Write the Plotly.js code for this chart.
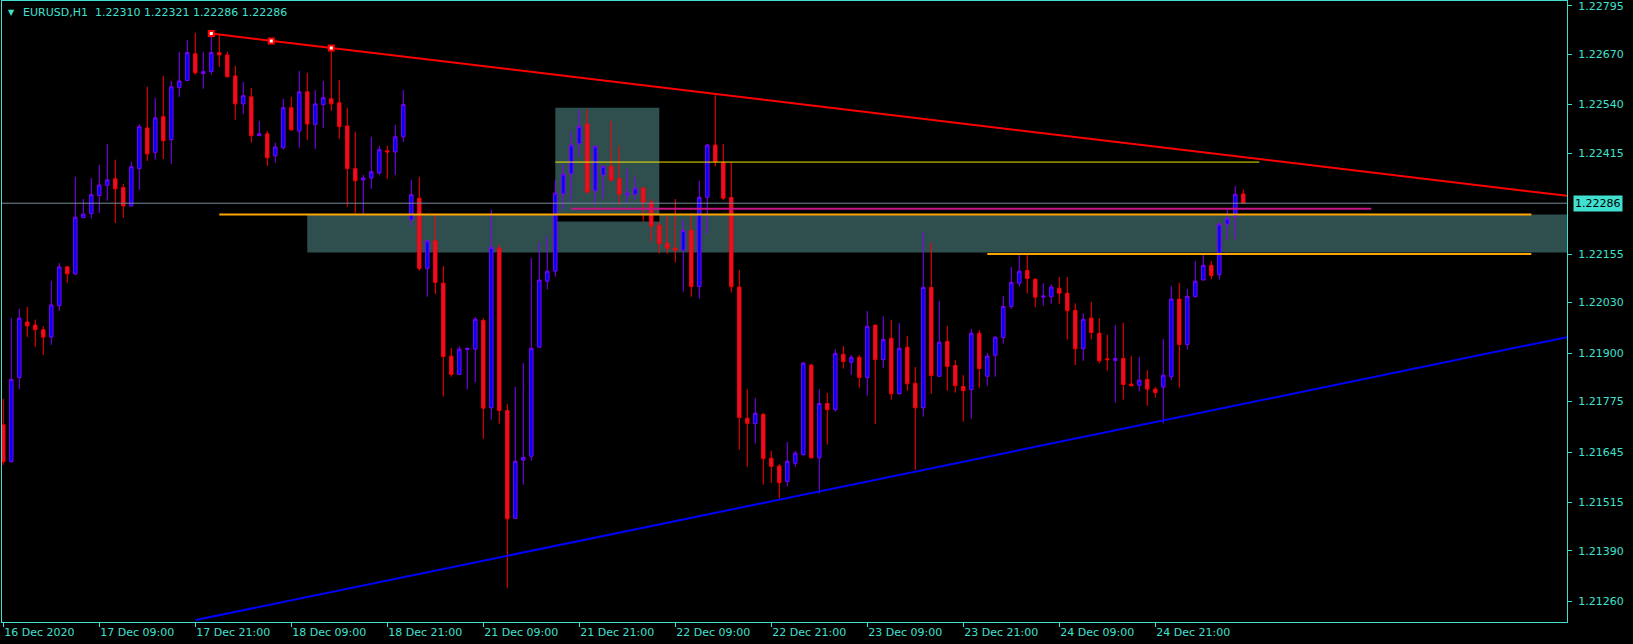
<!DOCTYPE html>
<html>
<head>
<meta charset="utf-8">
<script src="https://cdn.plot.ly/plotly-3.0.1.min.js"></script>
<style>
html,body{margin:0;padding:0;background:#000;}
#chart{width:1633px;height:644px;}
</style>
</head>
<body>
<div id="chart"></div>
<script>
// ---- Data (EURUSD H1) ----
const symbolTitle = "EURUSD,H1";
const lastQuote = ["1.22310", "1.22321", "1.22286", "1.22286"];
const currentPrice = 1.22286;

const opens = [
1.21715,1.21620,1.21837,1.21980,1.21972,1.21960,1.21941,1.22022,1.22122,1.22104,
1.22249,1.22259,1.22306,1.22332,1.22349,1.22326,1.22279,1.22375,1.22480,1.22417,
1.22509,1.22450,1.22584,1.22602,1.22671,1.22620,1.22625,1.22674,1.22668,1.22614,
1.22542,1.22560,1.22460,1.22465,1.22408,1.22429,1.22532,1.22472,1.22573,1.22489,
1.22540,1.22555,1.22545,1.22485,1.22375,1.22346,1.22351,1.22364,1.22421,1.22418,
1.22457,1.22243,1.22299,1.22118,1.22189,1.22080,1.21892,1.21845,1.21909,1.21910,
1.21984,1.21759,1.22170,1.21752,1.21474,1.21624,1.21634,1.21915,1.22085,1.22111,
1.22310,1.22362,1.22439,1.22490,1.22318,1.22359,1.22381,1.22349,1.22307,1.22309,
1.22325,1.22289,1.22229,1.22183,1.22170,1.22165,1.22216,1.22071,1.22301,1.22436,
1.22390,1.22301,1.22070,1.21732,1.21718,1.21742,1.21629,1.21609,1.21569,1.21616,
1.21638,1.21869,1.21630,1.21770,1.21754,1.21897,1.21876,1.21889,1.21837,1.21972,
1.21883,1.21938,1.21795,1.21915,1.21822,1.21759,1.22069,1.21840,1.21930,1.21868,
1.21814,1.21806,1.21951,1.21840,1.21894,1.21940,1.22020,1.22080,1.22113,1.22090,
1.22044,1.22045,1.22067,1.22054,1.22010,1.21911,1.21990,1.21951,1.21885,1.21881,
1.21886,1.21820,1.21817,1.21832,1.21807,1.21812,1.21839,1.22039,1.21922,1.22045,
1.22088,1.22126,1.22102,1.22232,1.22252,1.22310];

const highs = [
1.21782,1.21990,1.22014,1.22019,1.21986,1.21969,1.22086,1.22132,1.22123,1.22354,
1.22297,1.22351,1.22385,1.22439,1.22398,1.22336,1.22393,1.22490,1.22586,1.22558,
1.22614,1.22601,1.22676,1.22707,1.22725,1.22676,1.22723,1.22720,1.22676,1.22640,
1.22599,1.22583,1.22498,1.22472,1.22442,1.22555,1.22560,1.22627,1.22622,1.22578,
1.22601,1.22686,1.22604,1.22532,1.22470,1.22359,1.22457,1.22434,1.22434,1.22488,
1.22578,1.22346,1.22354,1.22191,1.22256,1.22124,1.21913,1.21918,1.21915,1.21993,
1.21990,1.22269,1.22179,1.21769,1.21813,1.21874,1.22145,1.22185,1.22202,1.22346,
1.22387,1.22472,1.22527,1.22527,1.22434,1.22384,1.22498,1.22434,1.22375,1.22354,
1.22328,1.22297,1.22238,1.22253,1.22297,1.22243,1.22261,1.22344,1.22439,1.22567,
1.22439,1.22392,1.22114,1.21807,1.21784,1.21746,1.21648,1.21614,1.21671,1.21648,
1.21877,1.21872,1.21807,1.21797,1.21910,1.21918,1.21895,1.21895,1.22008,1.21973,
1.21995,1.21985,1.21977,1.21944,1.21864,1.22211,1.22185,1.22034,1.21970,1.21882,
1.21843,1.21962,1.21959,1.21900,1.21942,1.22047,1.22122,1.22157,1.22155,1.22093,
1.22080,1.22077,1.22096,1.22096,1.22028,1.22002,1.22032,1.21990,1.21947,1.21972,
1.21978,1.21893,1.21890,1.21856,1.21813,1.21936,1.22073,1.22081,1.22065,1.22137,
1.22153,1.22137,1.22237,1.22270,1.22331,1.22321];

const lows = [
1.21612,1.21618,1.21807,1.21941,1.21916,1.21895,1.21921,1.22009,1.22081,1.22100,
1.22247,1.22247,1.22261,1.22292,1.22235,1.22248,1.22277,1.22320,1.22395,1.22398,
1.22400,1.22387,1.22560,1.22602,1.22617,1.22581,1.22617,1.22637,1.22609,1.22501,
1.22516,1.22442,1.22460,1.22382,1.22390,1.22424,1.22472,1.22429,1.22449,1.22426,
1.22480,1.22524,1.22452,1.22277,1.22261,1.22256,1.22323,1.22359,1.22349,1.22359,
1.22444,1.22228,1.22112,1.22045,1.22052,1.21788,1.21839,1.21843,1.21806,1.21824,
1.21679,1.21728,1.21718,1.21295,1.21473,1.21561,1.21623,1.21915,1.22064,1.22097,
1.22269,1.22289,1.22405,1.22310,1.22282,1.22297,1.22341,1.22282,1.22284,1.22295,
1.22239,1.22187,1.22156,1.22156,1.22133,1.22058,1.22045,1.22040,1.22205,1.22381,
1.22294,1.22056,1.21651,1.21607,1.21667,1.21561,1.21566,1.21525,1.21556,1.21607,
1.21636,1.21628,1.21538,1.21664,1.21749,1.21860,1.21844,1.21811,1.21790,1.21717,
1.21862,1.21780,1.21793,1.21803,1.21599,1.21736,1.21795,1.21840,1.21803,1.21798,
1.21723,1.21731,1.21811,1.21816,1.21839,1.21924,1.22014,1.22071,1.22053,1.22018,
1.22022,1.22027,1.22027,1.21935,1.21869,1.21880,1.21935,1.21873,1.21855,1.21772,
1.21780,1.21813,1.21801,1.21764,1.21785,1.21719,1.21830,1.21811,1.21909,1.22043,
1.22088,1.22090,1.22089,1.22193,1.22193,1.22286];

const closes = [
1.21620,1.21832,1.21990,1.21970,1.21960,1.21941,1.22024,1.22122,1.22104,1.22250,
1.22258,1.22308,1.22333,1.22346,1.22323,1.22279,1.22380,1.22483,1.22413,1.22506,
1.22447,1.22586,1.22601,1.22674,1.22622,1.22625,1.22674,1.22668,1.22612,1.22542,
1.22563,1.22460,1.22465,1.22403,1.22431,1.22532,1.22475,1.22573,1.22490,1.22542,
1.22558,1.22542,1.22483,1.22375,1.22344,1.22351,1.22367,1.22424,1.22418,1.22457,
1.22540,1.22308,1.22118,1.22189,1.22082,1.21891,1.21845,1.21910,1.21912,1.21987,
1.21758,1.22172,1.21752,1.21473,1.21621,1.21631,1.21912,1.22088,1.22111,1.22312,
1.22361,1.22436,1.22484,1.22315,1.22433,1.22381,1.22346,1.22310,1.22312,1.22325,
1.22289,1.22228,1.22182,1.22170,1.22165,1.22216,1.22071,1.22301,1.22436,1.22393,
1.22299,1.22071,1.21734,1.21719,1.21745,1.21628,1.21608,1.21566,1.21621,1.21642,
1.21874,1.21630,1.21770,1.21754,1.21899,1.21878,1.21889,1.21837,1.21969,1.21883,
1.21935,1.21795,1.21912,1.21821,1.21759,1.22069,1.21842,1.21928,1.21865,1.21816,
1.21803,1.21951,1.21860,1.21892,1.21941,1.22020,1.22082,1.22111,1.22092,1.22044,
1.22047,1.22070,1.22054,1.22009,1.21911,1.21987,1.21953,1.21880,1.21883,1.21886,
1.21819,1.21816,1.21830,1.21807,1.21798,1.21843,1.22039,1.21922,1.22046,1.22085,
1.22126,1.22100,1.22232,1.22247,1.22309,1.22286];

// time labels every 12 hourly bars
const timeTickBars = [0,12,24,36,48,60,72,84,96,108,120,132,144];
const timeTickLabels = ["16 Dec 2020","17 Dec 09:00","17 Dec 21:00","18 Dec 09:00","18 Dec 21:00",
  "21 Dec 09:00","21 Dec 21:00","22 Dec 09:00","22 Dec 21:00","23 Dec 09:00",
  "23 Dec 21:00","24 Dec 09:00","24 Dec 21:00"];

const priceTicks = [1.22795,1.22670,1.22540,1.22415,1.22155,1.22030,1.21900,1.21775,1.21645,1.21515,1.21390,1.21260];
const priceTickLabels = ["1.22795","1.22670","1.22540","1.22415","1.22155","1.22030","1.21900","1.21775","1.21645","1.21515","1.21390","1.21260"];

// drawn objects (bar index, price)
const redTrend = {bars:[26, 195.46], prices:[1.22723, 1.22305]};
const redTrendPoints = {bars:[26, 33.5, 41], prices:[1.22723, 1.22704, 1.22686]};
const blueTrend = {bars:[24.06, 195.46], prices:[1.21212, 1.21941]};
const orangeLevel1 = {bars:[27, 191], price:1.22257};
const orangeLevel2 = {bars:[123, 191], price:1.22155};
const yellowLevel = {bars:[69, 157], price:1.22392};
const magentaLevel = {bars:[71, 171], price:1.22272};
const zoneWide = {bars:[38, 200], prices:[1.22159, 1.22257]};
const zoneBox = {bars:[69, 82], prices:[1.22239, 1.22532]};

// ---- Build ----
const barIdx = opens.map((_, i) => i);
const TQ = '#40E0D0';
const FONT = 'DejaVu Sans, Tahoma, sans-serif';

const traces = [
  {
    type: 'candlestick',
    x: barIdx, open: opens, high: highs, low: lows, close: closes,
    increasing: {line: {color: '#8000FF', width: 1}, fillcolor: '#0000FF'},
    decreasing: {line: {color: '#FF0000', width: 1}, fillcolor: '#E8102C'},
    whiskerwidth: 0,
    hoverinfo: 'none',
    showlegend: false
  },
  {
    type: 'scatter', mode: 'lines',
    x: redTrend.bars, y: redTrend.prices,
    line: {color: '#FF0000', width: 2},
    hoverinfo: 'none', showlegend: false
  },
  {
    type: 'scatter', mode: 'lines',
    x: blueTrend.bars, y: blueTrend.prices,
    line: {color: '#0000FF', width: 2},
    hoverinfo: 'none', showlegend: false
  },
  {
    type: 'scatter', mode: 'markers',
    x: redTrendPoints.bars, y: redTrendPoints.prices,
    marker: {symbol: 'square', size: 5, color: '#FFFFFF', line: {color: '#FF0000', width: 2}},
    hoverinfo: 'none', showlegend: false
  }
];

function hline(obj, color, width) {
  return {type: 'line', xref: 'x', yref: 'y', layer: 'above',
    x0: obj.bars[0], x1: obj.bars[1], y0: obj.price, y1: obj.price,
    line: {color: color, width: width}};
}

const overlapTop = Math.min(zoneWide.prices[1], zoneBox.prices[1]);
const overlapBot = Math.max(zoneWide.prices[0], zoneBox.prices[0]);

const shapes = [
  {type: 'rect', xref: 'x', yref: 'y', layer: 'below',
    x0: zoneWide.bars[0], x1: zoneWide.bars[1], y0: zoneWide.prices[0], y1: zoneWide.prices[1],
    fillcolor: '#2F4F4F', line: {width: 0}},
  {type: 'rect', xref: 'x', yref: 'y', layer: 'below',
    x0: zoneBox.bars[0], x1: zoneBox.bars[1], y0: zoneBox.prices[0], y1: zoneBox.prices[1],
    fillcolor: '#2F4F4F', line: {width: 0}},
  // XOR-style overlap of the two zones shows as black
  {type: 'rect', xref: 'x', yref: 'y', layer: 'below',
    x0: zoneBox.bars[0], x1: zoneBox.bars[1], y0: overlapBot, y1: overlapTop,
    fillcolor: '#000000', line: {width: 0}},
  {type: 'line', xref: 'paper', yref: 'y', layer: 'above',
    x0: 0, x1: 1, y0: currentPrice, y1: currentPrice,
    line: {color: '#778899', width: 1}},
  hline(yellowLevel, '#F2E600', 1),
  hline(magentaLevel, '#C71585', 2),
  hline(orangeLevel1, '#FFA500', 2),
  hline(orangeLevel2, '#FFA500', 2)
];

const annotations = [
  {xref: 'paper', yref: 'paper', x: 0, y: 1, xanchor: 'left', yanchor: 'top',
    xshift: 19, yshift: -3, showarrow: false,
    text: symbolTitle + '\u00A0\u00A0' + lastQuote.join(' '),
    font: {family: FONT, size: 11, color: TQ}},
  {xref: 'paper', yref: 'paper', x: 0, y: 1, xanchor: 'left', yanchor: 'top',
    xshift: 4, yshift: -5, showarrow: false, text: '\u25BC',
    font: {family: FONT, size: 8, color: TQ}},
  {xref: 'paper', yref: 'y', x: 1, y: currentPrice, xanchor: 'left', yanchor: 'middle',
    xshift: 6, showarrow: false, text: currentPrice.toFixed(5),
    bgcolor: TQ, borderpad: 1,
    font: {family: FONT, size: 11, color: '#000000'}}
];

const layout = {
  width: 1633, height: 644,
  paper_bgcolor: '#000000', plot_bgcolor: '#000000',
  margin: {l: 2, r: 66, t: 1, b: 22, pad: 0},
  showlegend: false,
  hovermode: false,
  boxgap: 0.4,
  xaxis: {
    type: 'linear', range: [-0.1625, 195.46], fixedrange: true,
    rangeslider: {visible: false},
    showgrid: false, zeroline: false,
    showline: true, mirror: true, linecolor: TQ, linewidth: 1,
    ticks: 'outside', ticklen: 4, tickcolor: TQ, tickwidth: 1,
    tickvals: timeTickBars, ticktext: timeTickLabels,
    ticklabelposition: 'outside right',
    tickfont: {family: FONT, size: 11, color: TQ}
  },
  yaxis: {
    side: 'right', range: [1.21207, 1.22807], fixedrange: true,
    showgrid: false, zeroline: false,
    showline: true, mirror: true, linecolor: TQ, linewidth: 1,
    ticks: 'outside', ticklen: 4, tickcolor: TQ, tickwidth: 1,
    tickvals: priceTicks, ticktext: priceTickLabels,
    ticklabelstandoff: 4,
    ticklabeloverflow: 'allow',
    tickfont: {family: FONT, size: 11, color: TQ}
  },
  shapes: shapes,
  annotations: annotations
};

Plotly.newPlot('chart', traces, layout, {displayModeBar: false, staticPlot: true});
</script>
</body>
</html>
